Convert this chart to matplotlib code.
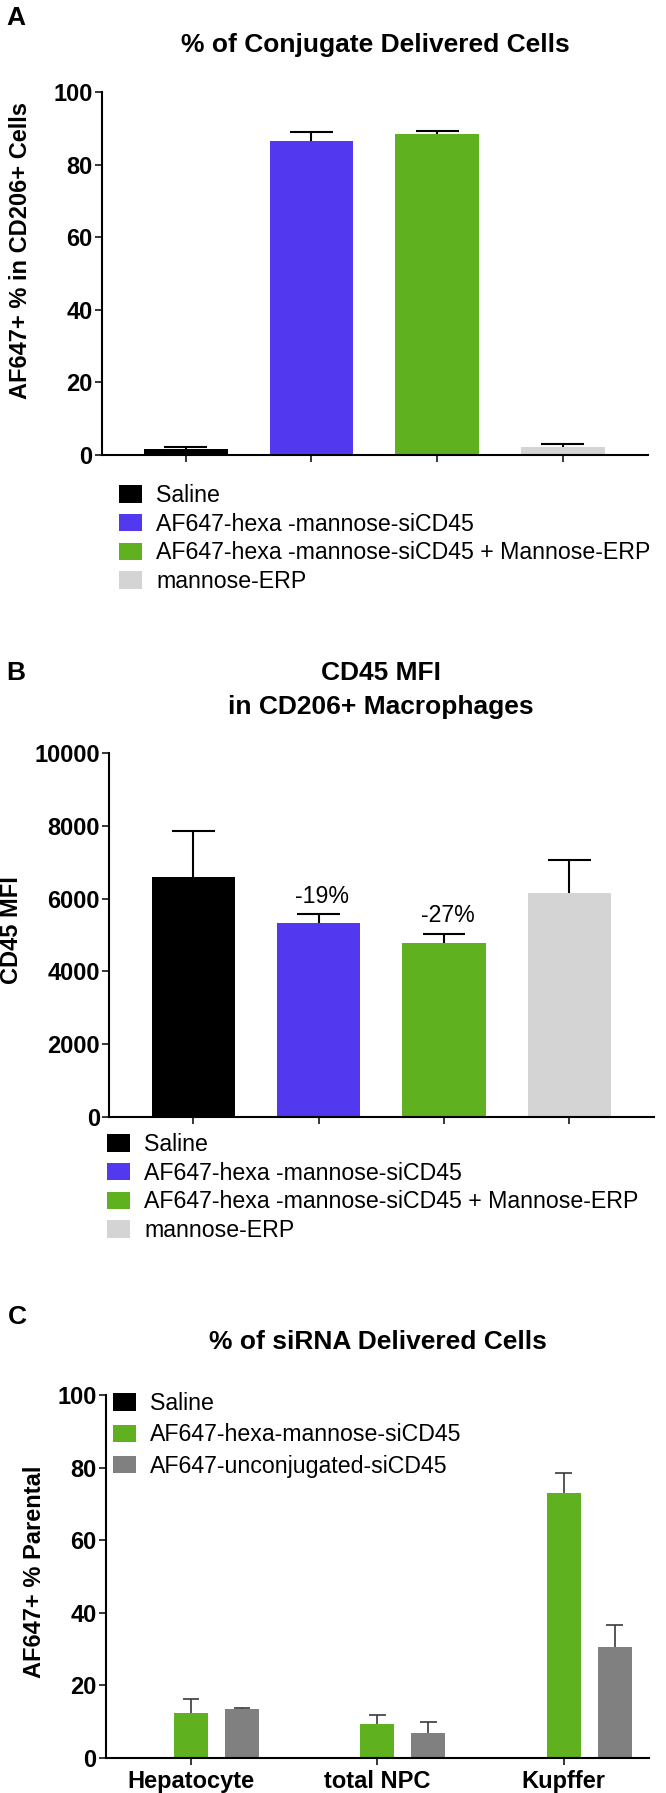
import matplotlib
matplotlib.use('Agg')
import matplotlib.pyplot as plt
from matplotlib.patches import Patch
import numpy as np

plt.rcParams['font.family'] = ['Liberation Sans', 'DejaVu Sans']

# Panel A - % of conjugate delivered cells
groups_ab = ['Saline', 'AF647-hexa -mannose-siCD45',
             'AF647-hexa -mannose-siCD45 + Mannose-ERP', 'mannose-ERP']
colors_ab = ['#000000', '#5238EE', '#5FB11F', '#D4D4D4']
a_values = [1.6, 86.7, 88.5, 2.3]
a_err = [0.5, 2.3, 0.8, 0.6]

# Panel B - CD45 MFI in CD206+ macrophages
b_values = [6590, 5320, 4770, 6150]
b_err = [1280, 250, 255, 920]
b_notes = ['', '-19%', '-27%', '']

# Panel C - % of siRNA delivered cells
c_cells = ['Hepatocyte', 'total NPC', 'Kupffer']
c_series = ['Saline', 'AF647-hexa-mannose-siCD45', 'AF647-unconjugated-siCD45']
c_colors = ['#000000', '#5FB11F', '#808080']
c_values = [[0.3, 0.3, 0.3],
            [12.2, 9.2, 73.1],
            [13.4, 6.8, 30.5]]
c_err = [[0.0, 0.0, 0.0],
         [3.9, 2.5, 5.3],
         [0.4, 3.0, 6.1]]

W, H = 666, 1793
fig = plt.figure(figsize=(W / 100, H / 100), dpi=100)


def box(left, top, right, bottom):
    return [left / W, 1 - bottom / H, (right - left) / W, (bottom - top) / H]


def style(ax):
    ax.spines['top'].set_visible(False)
    ax.spines['right'].set_visible(False)
    ax.spines['left'].set_linewidth(1.5)
    ax.spines['bottom'].set_linewidth(1.5)
    ax.tick_params(direction='out', length=5, width=1.1, labelsize=17, pad=1.7)


def upper_err(ax, x, vals, errs, half, color, lw):
    # one-sided SEM bars: stem from bar top plus a cap
    x = np.asarray(x, dtype=float)
    top = np.asarray(vals) + np.asarray(errs)
    ax.vlines(x, vals, top, color=color, lw=lw, zorder=1)
    ax.hlines(top, x - half, x + half, color=color, lw=lw, zorder=1)


def legend(handles_labels, x, y, spacing):
    handles = [Patch(facecolor=c, edgecolor='none') for c, _ in handles_labels]
    labels = [l for _, l in handles_labels]
    fig.legend(handles, labels, loc='upper left', bbox_to_anchor=(x / W, 1 - y / H),
               frameon=False, fontsize=16.7, handlelength=1.0, handleheight=0.78,
               handletextpad=0.6, labelspacing=spacing, borderpad=0, borderaxespad=0)


x4 = np.arange(4)

# ---- A ----
axA = fig.add_axes(box(101.7, 92.3, 648, 455))
axA.bar(x4, a_values, width=0.665, color=colors_ab, zorder=2)
upper_err(axA, x4, a_values, a_err, 0.171, 'black', 1.5)
axA.set_xlim(-0.669, 3.678)
axA.set_ylim(0, 100)
axA.set_xticks(x4, [''] * 4)
axA.set_yticks(np.arange(0, 101, 20), [str(v) for v in range(0, 101, 20)], fontweight='bold')
style(axA)
axA.set_ylabel('AF647+ % in CD206+ Cells', fontsize=17, fontweight='bold', va='center')
axA.yaxis.set_label_coords(-0.148, 0.565)
fig.text(16 / W, 1 - 18 / H, 'A', fontsize=19, fontweight='bold', ha='center', va='center')
fig.text(375 / W, 1 - 45 / H, '% of Conjugate Delivered Cells', fontsize=19,
         fontweight='bold', ha='center', va='center')
legend(list(zip(colors_ab, groups_ab)), 119, 484, 0.245)

# ---- B ----
axB = fig.add_axes(box(109.3, 753.3, 654, 1116.7))
axB.bar(x4, b_values, width=0.665, color=colors_ab, zorder=2)
upper_err(axB, x4, b_values, b_err, 0.171, 'black', 1.5)
for i, note in enumerate(b_notes):
    if note:
        axB.text(i + 0.03, b_values[i] + b_err[i] + 500, note, fontsize=16.7,
                 ha='center', va='center')
axB.set_xlim(-0.67, 3.675)
axB.set_ylim(0, 10000)
axB.set_xticks(x4, [''] * 4)
axB.set_yticks(np.arange(0, 10001, 2000), [str(v) for v in range(0, 10001, 2000)],
               fontweight='bold')
style(axB)
axB.set_ylabel('CD45 MFI', fontsize=17, fontweight='bold', va='center')
axB.yaxis.set_label_coords(-0.18, 0.514)
fig.text(16 / W, 1 - 673 / H, 'B', fontsize=19, fontweight='bold', ha='center', va='center')
fig.text(381 / W, 1 - 673 / H, 'CD45 MFI', fontsize=19, fontweight='bold',
         ha='center', va='center')
fig.text(381 / W, 1 - 707 / H, 'in CD206+ Macrophages', fontsize=19, fontweight='bold',
         ha='center', va='center')
legend(list(zip(colors_ab, groups_ab)), 107, 1133, 0.245)

# ---- C ----
axC = fig.add_axes(box(106, 1395, 649.3, 1757.7))
x3 = np.arange(3)
bw = 0.1825
offs = [-0.274, 0.0, 0.274]
for k in range(3):
    axC.bar(x3 + offs[k], c_values[k], width=bw, color=c_colors[k], zorder=2)
    if k > 0:
        upper_err(axC, x3 + offs[k], c_values[k], c_err[k], 0.045, '#3a3a3a', 1.2)
axC.set_xlim(-0.456, 2.46)
axC.set_ylim(0, 100)
axC.set_xticks(x3, c_cells, fontweight='bold')
axC.set_yticks(np.arange(0, 101, 20), [str(v) for v in range(0, 101, 20)], fontweight='bold')
style(axC)
axC.tick_params(axis='x', pad=4)
axC.set_ylabel('AF647+ % Parental', fontsize=17, fontweight='bold', va='center')
axC.yaxis.set_label_coords(-0.1307, 0.513)
fig.text(17 / W, 1 - 1317 / H, 'C', fontsize=19, fontweight='bold', ha='center', va='center')
fig.text(378 / W, 1 - 1342 / H, '% of siRNA Delivered Cells', fontsize=19,
         fontweight='bold', ha='center', va='center')
legend(list(zip(c_colors, c_series)), 112.7, 1392, 0.36)

fig.savefig('out.png', dpi=100)
